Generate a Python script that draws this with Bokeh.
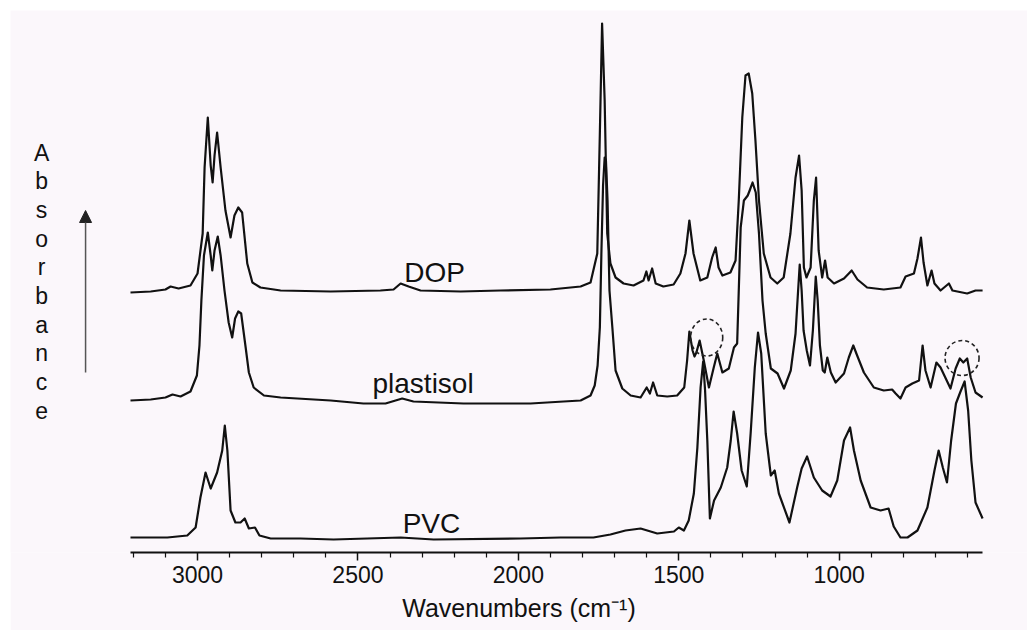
from bokeh.plotting import figure
from bokeh.models import Range1d, FixedTicker, Arrow, NormalHead
from bokeh.core.properties import value
from bokeh.embed import file_html
from bokeh.resources import INLINE

# ---- data: (wavenumber cm-1, absorbance above the trace's own baseline) ----
dop = [(3209, 0.000), (3146, 0.005), (3100, 0.015), (3084, 0.030), (3059, 0.020), (3022, 0.035),
       (3000, 0.095), (2984, 0.295), (2978, 0.625), (2968, 0.875), (2959, 0.635), (2953, 0.550),
       (2947, 0.685), (2939, 0.800), (2928, 0.625), (2913, 0.410), (2897, 0.275), (2885, 0.385),
       (2873, 0.425), (2861, 0.400), (2845, 0.145), (2829, 0.050), (2804, 0.025), (2741, 0.010),
       (2585, 0.005), (2430, 0.010), (2389, 0.015), (2367, 0.045), (2342, 0.030), (2305, 0.010),
       (2180, 0.005), (2056, 0.010), (1900, 0.015), (1806, 0.030), (1775, 0.050), (1754, 0.195),
       (1746, 0.795), (1739, 1.345), (1731, 0.960), (1723, 0.295), (1713, 0.145), (1697, 0.075),
       (1672, 0.045), (1641, 0.035), (1610, 0.060), (1601, 0.105), (1594, 0.060), (1583, 0.120),
       (1572, 0.045), (1548, 0.030), (1516, 0.040), (1495, 0.095), (1479, 0.195), (1467, 0.360),
       (1454, 0.195), (1433, 0.060), (1411, 0.075), (1396, 0.175), (1385, 0.225), (1376, 0.125),
       (1364, 0.085), (1339, 0.100), (1323, 0.160), (1313, 0.460), (1302, 0.875), (1292, 1.085),
       (1282, 1.095), (1271, 0.995), (1261, 0.760), (1250, 0.460), (1235, 0.195), (1214, 0.075),
       (1193, 0.045), (1173, 0.075), (1152, 0.295), (1136, 0.575), (1125, 0.685), (1117, 0.510),
       (1110, 0.125), (1102, 0.075), (1089, 0.125), (1079, 0.460), (1072, 0.575), (1064, 0.210),
       (1053, 0.075), (1044, 0.160), (1036, 0.075), (1016, 0.045), (985, 0.070), (961, 0.110),
       (943, 0.065), (913, 0.025), (861, 0.015), (809, 0.025), (793, 0.080), (767, 0.095),
       (756, 0.170), (745, 0.275), (737, 0.150), (725, 0.035), (712, 0.110), (703, 0.045),
       (684, 0.010), (658, 0.045), (647, 0.010), (601, -0.005), (575, 0.010), (553, 0.010)]

plastisol = [(3209, 0.000), (3146, 0.005), (3100, 0.015), (3078, 0.030), (3053, 0.020), (3022, 0.045),
             (3002, 0.125), (2994, 0.275), (2988, 0.500), (2980, 0.725), (2968, 0.840), (2959, 0.725),
             (2954, 0.650), (2947, 0.750), (2937, 0.820), (2928, 0.725), (2916, 0.550), (2903, 0.390),
             (2892, 0.315), (2883, 0.410), (2873, 0.445), (2864, 0.435), (2850, 0.265), (2840, 0.140),
             (2825, 0.065), (2793, 0.025), (2741, 0.015), (2585, 0.000), (2483, -0.015), (2414, -0.015),
             (2362, 0.010), (2327, -0.005), (2171, -0.015), (1962, -0.015), (1859, -0.005), (1806, 0.000),
             (1775, 0.025), (1762, 0.075), (1753, 0.175), (1746, 0.365), (1741, 0.750), (1736, 1.075),
             (1731, 1.215), (1727, 1.200), (1722, 1.000), (1716, 0.550), (1707, 0.365), (1697, 0.150),
             (1676, 0.060), (1650, 0.025), (1619, 0.015), (1600, 0.065), (1590, 0.035), (1580, 0.090),
             (1567, 0.025), (1536, 0.020), (1505, 0.025), (1483, 0.065), (1474, 0.200), (1467, 0.345),
             (1457, 0.250), (1451, 0.220), (1445, 0.240), (1435, 0.300), (1422, 0.200), (1406, 0.065),
             (1391, 0.165), (1380, 0.235), (1364, 0.140), (1344, 0.160), (1328, 0.265), (1318, 0.285),
             (1307, 0.865), (1297, 1.000), (1285, 1.025), (1279, 1.050), (1270, 1.090), (1260, 1.040),
             (1250, 0.835), (1239, 0.500), (1229, 0.335), (1213, 0.160), (1192, 0.135), (1172, 0.060),
             (1151, 0.150), (1136, 0.335), (1128, 0.550), (1123, 0.680), (1117, 0.550), (1111, 0.350),
             (1101, 0.250), (1091, 0.175), (1082, 0.350), (1073, 0.620), (1067, 0.500), (1060, 0.275),
             (1051, 0.150), (1045, 0.140), (1037, 0.215), (1026, 0.140), (1011, 0.090), (985, 0.135),
             (970, 0.215), (956, 0.275), (944, 0.225), (923, 0.140), (892, 0.065), (861, 0.050),
             (835, 0.055), (824, 0.035), (809, 0.010), (793, 0.065), (772, 0.085), (751, 0.100),
             (740, 0.275), (731, 0.150), (715, 0.065), (697, 0.190), (684, 0.165), (653, 0.060),
             (637, 0.160), (624, 0.210), (613, 0.190), (601, 0.210), (590, 0.115), (575, 0.040),
             (553, 0.015)]

pvc = [(3209, 0.000), (3094, 0.000), (3032, 0.010), (3006, 0.050), (2991, 0.200), (2975, 0.325),
       (2959, 0.245), (2939, 0.325), (2923, 0.435), (2915, 0.560), (2907, 0.435), (2897, 0.135),
       (2882, 0.075), (2866, 0.075), (2853, 0.095), (2840, 0.045), (2821, 0.050), (2807, 0.010),
       (2772, -0.005), (2679, -0.005), (2576, -0.010), (2367, 0.000), (2264, -0.010), (1993, -0.005),
       (1869, 0.000), (1766, 0.000), (1713, 0.015), (1666, 0.035), (1619, 0.045), (1567, 0.020),
       (1515, 0.030), (1500, 0.050), (1484, 0.035), (1469, 0.085), (1453, 0.220), (1442, 0.450),
       (1432, 0.750), (1424, 0.880), (1418, 0.735), (1411, 0.485), (1403, 0.095), (1390, 0.185),
       (1369, 0.250), (1349, 0.350), (1338, 0.485), (1329, 0.630), (1318, 0.520), (1304, 0.335),
       (1288, 0.255), (1276, 0.520), (1263, 0.850), (1253, 1.025), (1243, 0.920), (1229, 0.520),
       (1213, 0.310), (1201, 0.335), (1188, 0.220), (1155, 0.075), (1131, 0.250), (1117, 0.345),
       (1100, 0.405), (1079, 0.300), (1053, 0.235), (1027, 0.205), (1006, 0.285), (985, 0.485),
       (966, 0.550), (954, 0.435), (933, 0.285), (902, 0.150), (871, 0.135), (846, 0.145),
       (830, 0.055), (809, 0.000), (787, 0.000), (756, 0.035), (725, 0.150), (703, 0.335),
       (690, 0.435), (677, 0.350), (664, 0.275), (651, 0.485), (636, 0.670), (623, 0.725),
       (609, 0.780), (598, 0.635), (588, 0.385), (575, 0.175), (553, 0.095)]

series_offsets = {"DOP": 1.30, "plastisol": 0.76, "PVC": 0.075}
series_data = {"DOP": dop, "plastisol": plastisol, "PVC": pvc}

label_names = ["DOP", "plastisol", "PVC"]
label_wn = [2261, 2297, 2271]
label_y = [1.40, 0.843, 0.143]

# dashed circles marking PVC bands inside the plastisol spectrum
circle_wn = [1413, 617]
circle_y = [1.075, 0.9725]
circle_w = [100, 106]
circle_h = [0.185, 0.175]

major_ticks = [1000, 1500, 2000, 2500, 3000]
minor_ticks = [t for t in range(600, 3300, 100) if t not in major_ticks]

bg = "#fbf7fb"
font = "Liberation Sans"

p = figure(width=1017, height=620, output_backend="svg", toolbar_location=None,
           x_range=Range1d(3583, 413), y_range=Range1d(0, 2.71),
           y_axis_location=None,
           min_border_left=0, min_border_right=0, min_border_top=0, min_border_bottom=78,
           background_fill_color=bg, border_fill_color=bg, outline_line_color=None)
p.margin = (10, 0, 0, 10)
p.grid.visible = False

for name in ["DOP", "plastisol", "PVC"]:
    pts = series_data[name]
    xs = [w for w, a in pts]
    ys = [a + series_offsets[name] for w, a in pts]
    p.line(xs, ys, line_color="#111111", line_width=2.2, line_join="round")

p.text(x=label_wn, y=label_y, text=label_names, text_font=value(font), text_font_size="28px",
       text_align="center", text_baseline="alphabetic", text_color="#111111")

p.ellipse(x=circle_wn, y=circle_y, width=circle_w, height=circle_h, fill_color=None,
          line_color="#222222", line_width=1.6, line_dash="4 3")

# vertical "Absorbance" title and arrow
title_letters = list("Absorbance")
title_x = 3486
title_top = 2.0
title_step = 0.1435
p.text(x=[title_x] * len(title_letters),
       y=[title_top - i * title_step for i in range(len(title_letters))],
       text=title_letters, text_font=value(font), text_font_size="23px",
       text_align="center", text_baseline="middle", text_color="#111111")

p.add_layout(Arrow(end=NormalHead(size=12, fill_color="#222222", line_color="#222222"),
                   x_start=3349, y_start=0.90, x_end=3349, y_end=1.71,
                   line_color="#555555", line_width=1.5))

ax = p.xaxis[0]
ax.ticker = FixedTicker(ticks=major_ticks, minor_ticks=minor_ticks)
ax.bounds = (553, 3209)
ax.axis_line_width = 2
ax.axis_line_color = "#111111"
ax.major_tick_line_color = "#111111"
ax.minor_tick_line_color = "#111111"
ax.major_tick_line_width = 1.5
ax.minor_tick_line_width = 1.2
ax.major_tick_in = 0
ax.major_tick_out = 8
ax.minor_tick_in = 0
ax.minor_tick_out = 5
ax.major_label_text_font = font
ax.major_label_text_font_size = "23px"
ax.major_label_text_color = "#111111"
ax.major_label_standoff = 5
ax.axis_label = "Wavenumbers (cm\u207b\u00b9)"
ax.axis_label_text_font = font
ax.axis_label_text_font_size = "25px"
ax.axis_label_text_font_style = "normal"
ax.axis_label_text_color = "#111111"
ax.axis_label_standoff = 8

open("out.html", "w").write(file_html(p, INLINE))
